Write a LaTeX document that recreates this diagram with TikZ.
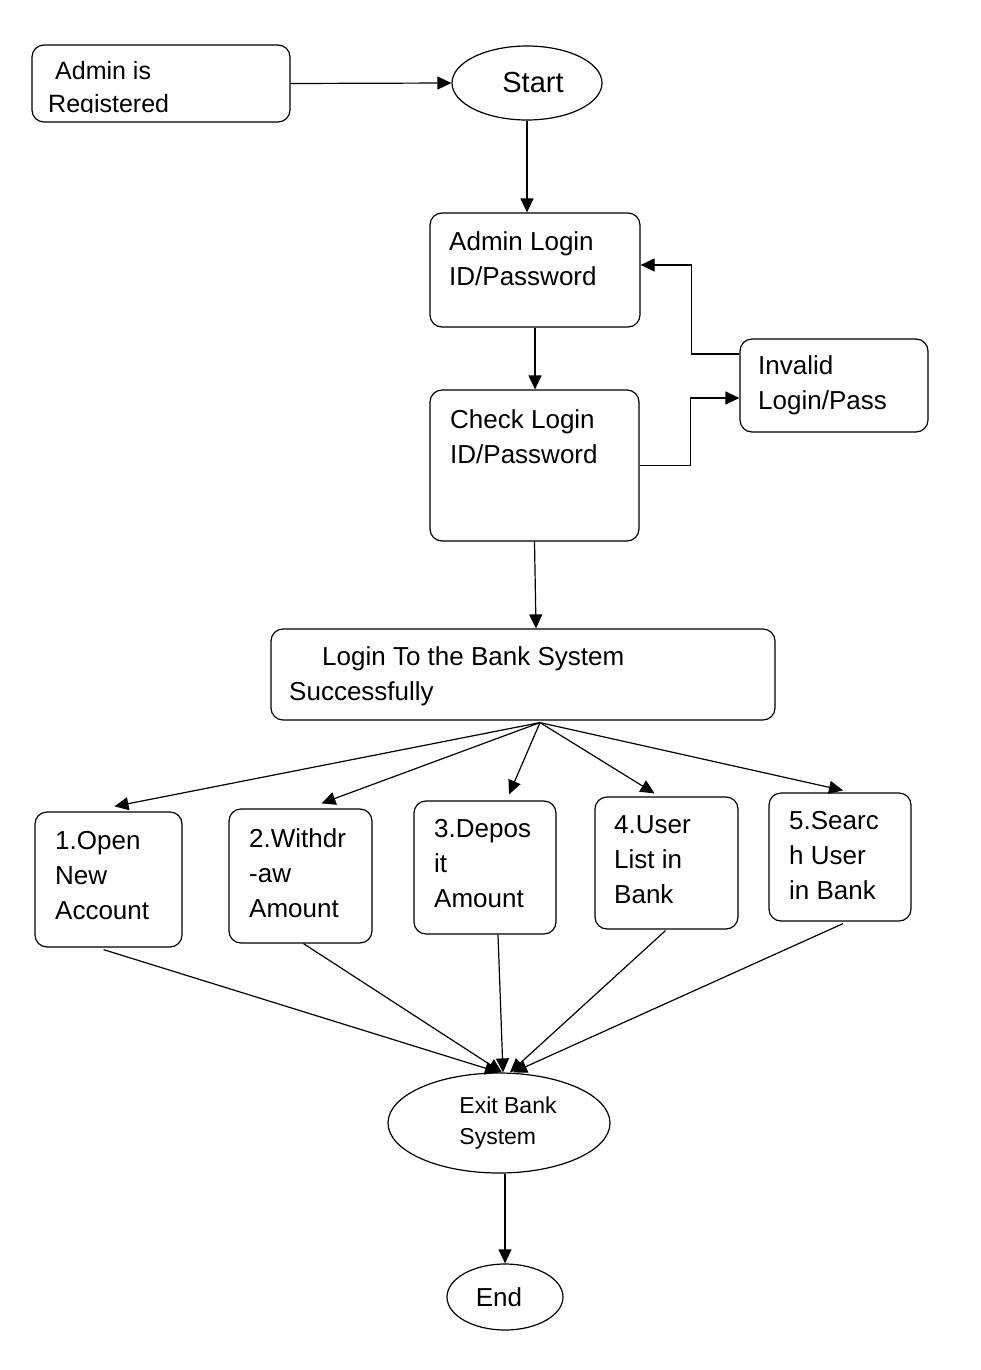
\documentclass[tikz,border=0pt]{standalone}
\usepackage{fontspec}
\setmainfont{Liberation Sans}
\usepackage{tikz}
\usetikzlibrary{positioning,shapes,arrows.meta,calc}

\begin{document}
\begin{tikzpicture}[
  x=1pt, y=-1pt,
  block/.style={
    draw=black,
    fill=white,
    shape=rectangle,
    rounded corners=12pt,
    line width=1.2pt,
    inner sep=0pt,
  },
  term/.style={
    draw=black,
    fill=white,
    shape=ellipse,
    line width=1.2pt,
    inner sep=0pt,
  },
  txt/.style={
    anchor=north west,
    inner sep=0pt,
    align=left,
    font=\fontsize{26}{35}\selectfont,
  },
  line/.style={
    line width=1.2pt,
    draw=black,
    -{Triangle[length=14pt,width=13pt]},
  }]
  \useasboundingbox (0,0) rectangle (980,1370);

  % top part
  \node[block, minimum width=258pt, minimum height=77pt] (reg) at (161,83.5) {};
  \begin{scope}
    \clip (32,45) rectangle (290,112.5);
    \node[txt, font=\fontsize{25}{33}\selectfont] (regtxt) at (48,61) {\hspace*{7pt}Admin is\\Registered};
  \end{scope}
  \node[term, minimum width=150pt, minimum height=74pt, font=\fontsize{29}{35}\selectfont] (start) at (527,83) {\hspace*{12pt}Start};

  \node[block, minimum width=210pt, minimum height=114pt] (adm) at (535,270) {};
  \node[txt] (admtxt) at (449,231) {Admin Login\\ID/Password};
  \node[block, minimum width=209pt, minimum height=151pt] (chk) at (534.5,465.5) {};
  \node[txt] (chktxt) at (450,409) {Check Login\\ID/Password};
  \node[block, minimum width=188pt, minimum height=93pt] (inv) at (834,385.5) {};
  \node[txt] (invtxt) at (758,355) {Invalid\\Login/Pass};
  \node[block, minimum width=504pt, minimum height=91pt] (login) at (523,674.5) {};
  \node[txt] (logintxt) at (289,646) {\hspace*{33pt}Login To the Bank System\\Successfully};

  % menu
  \node[block, minimum width=147pt, minimum height=135pt] (open) at (108.5,879.5) {};
  \node[txt] (opentxt) at (55,831) {1.Open\\New\\Account};
  \node[block, minimum width=143pt, minimum height=134pt] (wdr) at (300.5,876) {};
  \node[txt] (wdrtxt) at (249,828) {2.Withdr\\-aw\\Amount};
  \node[block, minimum width=142pt, minimum height=133pt] (dep) at (485,867.5) {};
  \node[txt] (deptxt) at (434,819) {3.Depos\\it\\Amount};
  \node[block, minimum width=143pt, minimum height=132pt] (list) at (666.5,863) {};
  \node[txt] (listtxt) at (614,815) {4.User\\List in\\Bank};
  \node[block, minimum width=142pt, minimum height=128pt] (srch) at (840,857) {};
  \node[txt] (srchtxt) at (789,811) {5.Searc\\h User\\in Bank};

  % exit
  \node[term, minimum width=222pt, minimum height=100pt, align=left, font=\fontsize{23}{31}\selectfont] (exit) at (499,1123) {\hspace*{18pt}Exit Bank\\\hspace*{18pt}System};
  \node[term, minimum width=116pt, minimum height=66pt, font=\fontsize{26}{35}\selectfont] (end) at (505,1297) {End\hspace*{12pt}};

  \draw[line] (reg.east) -- (start.west);
  \draw[line] (start.south) -- (start.south |- adm.north);
  \draw[line] (adm.south) -- (adm.south |- chk.north);
  \draw[line] (chk.east) -- ++(51,0) |- ($(inv.west)+(0,12.5)$);
  \draw[line] ($(inv.west)+(0,-31.5)$) -- ++(-48,0) |- ($(adm.east)+(0,-5)$);
  \draw[line] (chk.south) -- ($(login.north)+(13,0)$);

  \coordinate (fan) at ($(login.south)+(17,2)$);
  \draw[line] (fan) -- ($(open.north)+(6,-5)$);
  \draw[line] (fan) -- ($(wdr.north)+(21,-5)$);
  \draw[line] (fan) -- ($(dep.north)+(24,-6)$);
  \draw[line] (fan) -- ($(list.north)+(-12,-3)$);
  \draw[line] (fan) -- ($(srch.north)+(3,-2)$);

  \draw[line] ($(open.south)+(-5,2)$) -- (exit.north);
  \draw[line] ($(wdr.south)+(3,0)$) -- ($(exit.north)+(3,0)$);
  \draw[line] ($(dep.south)+(13,0)$) -- ($(exit.north)+(4,0)$);
  \draw[line] ($(list.south)+(-1,1)$) -- ($(exit.north)+(11,0)$);
  \draw[line] ($(srch.south)+(3,2)$) -- ($(exit.north)+(14,0)$);
  \draw[line] ($(exit.south)+(6,0)$) -- (end.north);
\end{tikzpicture}
\end{document}
